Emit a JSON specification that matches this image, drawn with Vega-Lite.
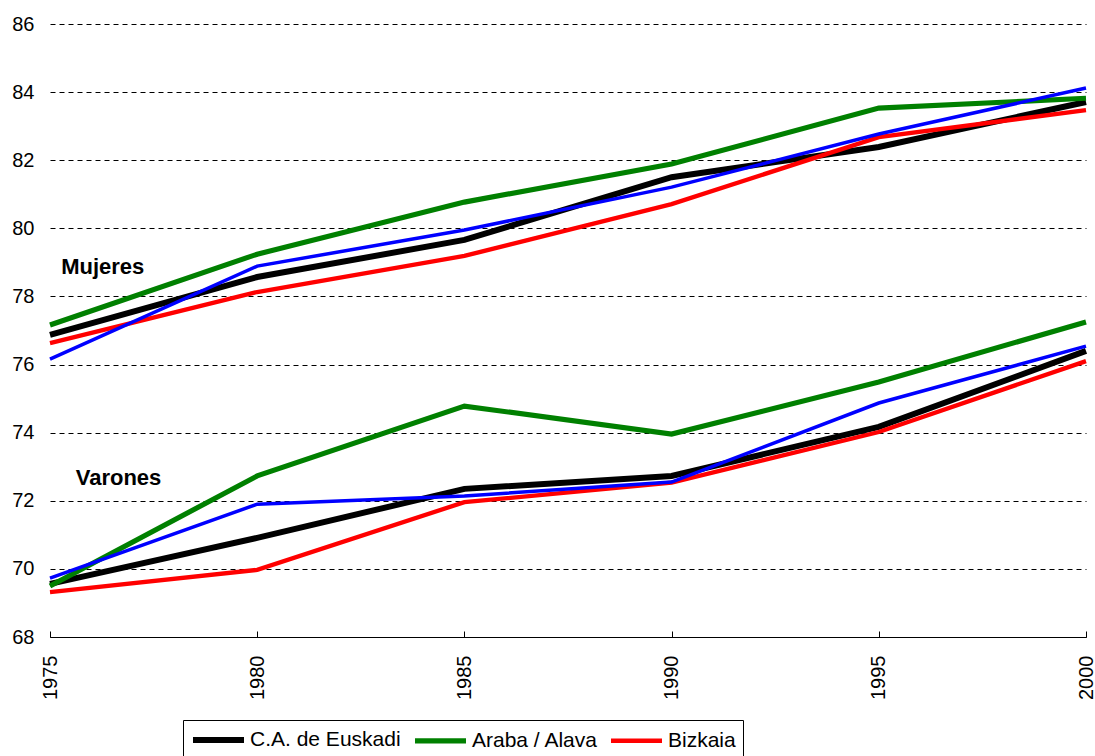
{
  "$schema": "https://vega.github.io/schema/vega-lite/v6.json",
  "width": 1036,
  "height": 613,
  "autosize": "none",
  "padding": {"left": 50, "top": 24, "right": 9, "bottom": 119},
  "background": "white",
  "config": {
    "view": {"stroke": null},
    "font": "Liberation Sans"
  },
  "datasets": {
    "series": [
      {"region": "C.A. de Euskadi", "sexo": "Mujeres", "year": 1975, "value": 76.87},
      {"region": "C.A. de Euskadi", "sexo": "Mujeres", "year": 1980, "value": 78.57},
      {"region": "C.A. de Euskadi", "sexo": "Mujeres", "year": 1985, "value": 79.66},
      {"region": "C.A. de Euskadi", "sexo": "Mujeres", "year": 1990, "value": 81.5},
      {"region": "C.A. de Euskadi", "sexo": "Mujeres", "year": 1995, "value": 82.39},
      {"region": "C.A. de Euskadi", "sexo": "Mujeres", "year": 2000, "value": 83.71},
      {"region": "C.A. de Euskadi", "sexo": "Varones", "year": 1975, "value": 69.56},
      {"region": "C.A. de Euskadi", "sexo": "Varones", "year": 1980, "value": 70.91},
      {"region": "C.A. de Euskadi", "sexo": "Varones", "year": 1985, "value": 72.35},
      {"region": "C.A. de Euskadi", "sexo": "Varones", "year": 1990, "value": 72.73},
      {"region": "C.A. de Euskadi", "sexo": "Varones", "year": 1995, "value": 74.17},
      {"region": "C.A. de Euskadi", "sexo": "Varones", "year": 2000, "value": 76.4},
      {"region": "Araba / Alava", "sexo": "Mujeres", "year": 1975, "value": 77.16},
      {"region": "Araba / Alava", "sexo": "Mujeres", "year": 1980, "value": 79.24},
      {"region": "Araba / Alava", "sexo": "Mujeres", "year": 1985, "value": 80.77},
      {"region": "Araba / Alava", "sexo": "Mujeres", "year": 1990, "value": 81.89},
      {"region": "Araba / Alava", "sexo": "Mujeres", "year": 1995, "value": 83.53},
      {"region": "Araba / Alava", "sexo": "Mujeres", "year": 2000, "value": 83.82},
      {"region": "Araba / Alava", "sexo": "Varones", "year": 1975, "value": 69.5},
      {"region": "Araba / Alava", "sexo": "Varones", "year": 1980, "value": 72.73},
      {"region": "Araba / Alava", "sexo": "Varones", "year": 1985, "value": 74.78},
      {"region": "Araba / Alava", "sexo": "Varones", "year": 1990, "value": 73.96},
      {"region": "Araba / Alava", "sexo": "Varones", "year": 1995, "value": 75.49},
      {"region": "Araba / Alava", "sexo": "Varones", "year": 2000, "value": 77.25},
      {"region": "Bizkaia", "sexo": "Mujeres", "year": 1975, "value": 76.63},
      {"region": "Bizkaia", "sexo": "Mujeres", "year": 1980, "value": 78.13},
      {"region": "Bizkaia", "sexo": "Mujeres", "year": 1985, "value": 79.19},
      {"region": "Bizkaia", "sexo": "Mujeres", "year": 1990, "value": 80.71},
      {"region": "Bizkaia", "sexo": "Mujeres", "year": 1995, "value": 82.68},
      {"region": "Bizkaia", "sexo": "Mujeres", "year": 2000, "value": 83.47},
      {"region": "Bizkaia", "sexo": "Varones", "year": 1975, "value": 69.32},
      {"region": "Bizkaia", "sexo": "Varones", "year": 1980, "value": 69.97},
      {"region": "Bizkaia", "sexo": "Varones", "year": 1985, "value": 71.96},
      {"region": "Bizkaia", "sexo": "Varones", "year": 1990, "value": 72.53},
      {"region": "Bizkaia", "sexo": "Varones", "year": 1995, "value": 74.02},
      {"region": "Bizkaia", "sexo": "Varones", "year": 2000, "value": 76.1},
      {"region": "Gipuzkoa", "sexo": "Mujeres", "year": 1975, "value": 76.16},
      {"region": "Gipuzkoa", "sexo": "Mujeres", "year": 1980, "value": 78.89},
      {"region": "Gipuzkoa", "sexo": "Mujeres", "year": 1985, "value": 79.95},
      {"region": "Gipuzkoa", "sexo": "Mujeres", "year": 1990, "value": 81.21},
      {"region": "Gipuzkoa", "sexo": "Mujeres", "year": 1995, "value": 82.77},
      {"region": "Gipuzkoa", "sexo": "Mujeres", "year": 2000, "value": 84.12},
      {"region": "Gipuzkoa", "sexo": "Varones", "year": 1975, "value": 69.73},
      {"region": "Gipuzkoa", "sexo": "Varones", "year": 1980, "value": 71.9},
      {"region": "Gipuzkoa", "sexo": "Varones", "year": 1985, "value": 72.14},
      {"region": "Gipuzkoa", "sexo": "Varones", "year": 1990, "value": 72.55},
      {"region": "Gipuzkoa", "sexo": "Varones", "year": 1995, "value": 74.87},
      {"region": "Gipuzkoa", "sexo": "Varones", "year": 2000, "value": 76.54}
    ],
    "labels": [
      {"text": "Mujeres", "year": 1975.27, "value": 78.85},
      {"text": "Varones", "year": 1975.62, "value": 72.67}
    ]
  },
  "layer": [
    {
      "data": {"name": "series"},
      "mark": {"type": "line", "strokeJoin": "miter", "strokeCap": "butt"},
      "encoding": {
        "x": {
          "field": "year", "type": "quantitative",
          "scale": {"domain": [1975, 2000], "nice": false, "zero": false},
          "axis": {
            "title": null, "values": [1975, 1980, 1985, 1990, 1995, 2000], "format": "d",
            "labelAngle": -90, "labelFontSize": 20, "labelColor": "black",
            "labelPadding": 24, "grid": false,
            "domainColor": "black", "domainWidth": 1,
            "ticks": true, "tickColor": "black", "tickSize": -6, "tickWidth": 1
          }
        },
        "y": {
          "field": "value", "type": "quantitative",
          "scale": {"domain": [68, 86], "nice": false, "zero": false},
          "axis": {
            "title": null, "values": [68, 70, 72, 74, 76, 78, 80, 82, 84, 86],
            "labelFontSize": 20, "labelColor": "black", "labelPadding": 16,
            "ticks": false, "domain": false,
            "grid": true, "gridColor": "black", "gridDash": [5, 4], "gridWidth": 1, "gridOpacity": 1
          }
        },
        "color": {
          "field": "region", "type": "nominal",
          "scale": {
            "domain": ["C.A. de Euskadi", "Araba / Alava", "Bizkaia", "Gipuzkoa"],
            "range": ["#000000", "#008000", "#FF0000", "#0000FF"]
          },
          "legend": {
            "values": ["C.A. de Euskadi", "Araba / Alava", "Bizkaia"],
            "title": null,
            "orient": "none",
            "legendX": 133,
            "legendY": 696,
            "direction": "horizontal",
            "columns": 3,
            "columnPadding": 3,
            "symbolType": "M-1,0H4.1",
            "symbolSize": 400,
            "symbolStrokeWidth": 4,
            "symbolFillColor": "transparent",
            "labelFontSize": 21,
            "labelColor": "black",
            "labelOffset": 34,
            "padding": 7,
            "strokeColor": "black",
            "fillColor": "white",
            "encode": {
              "symbols": {"update": {"strokeWidth": {"signal": "datum.value === 'C.A. de Euskadi' ? 6 : 4"}, "strokeCap": {"value": "butt"}}}
            }
          }
        },
        "strokeWidth": {
          "field": "region", "type": "nominal",
          "scale": {
            "domain": ["C.A. de Euskadi", "Araba / Alava", "Bizkaia", "Gipuzkoa"],
            "range": [6, 3.5, 3.5, 3.5]
          },
          "legend": null
        },
        "detail": {"field": "sexo", "type": "nominal"}
      }
    },
    {
      "data": {"name": "labels"},
      "mark": {"type": "text", "align": "left", "baseline": "middle", "fontSize": 22, "fontWeight": "bold", "color": "black"},
      "encoding": {
        "x": {"field": "year", "type": "quantitative"},
        "y": {"field": "value", "type": "quantitative"},
        "text": {"field": "text", "type": "nominal"}
      }
    }
  ]
}
